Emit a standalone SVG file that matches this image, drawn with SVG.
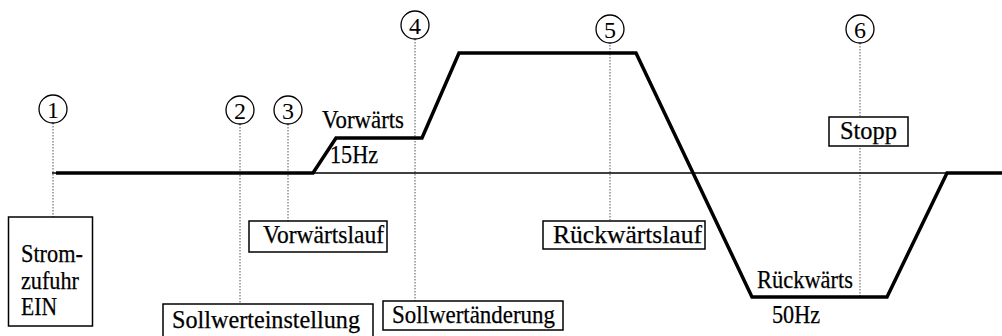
<svg xmlns="http://www.w3.org/2000/svg" width="1002" height="336" viewBox="0 0 1002 336">
<style>
text{font-family:'Liberation Serif','DejaVu Serif','Times New Roman',serif;fill:#000}
.lbl{font-size:25px;stroke:#000;stroke-width:0.25}
.num{font-size:24px;text-anchor:middle}
.box{fill:#fff;stroke:#000;stroke-width:1.5}
.circ{fill:#fff;stroke:#000;stroke-width:1.3}
.dot{stroke:#555;stroke-width:1;stroke-dasharray:1.5 1.5;fill:none}
.axis{stroke:#000;stroke-width:1.6;fill:none}
.curve{stroke:#000;stroke-width:3.5;fill:none;stroke-linejoin:miter}
</style>
<rect width="1002" height="336" fill="#fff"/>
<g id="connectors">
<line class="dot" x1="53" y1="123" x2="53" y2="217"/>
<line class="dot" x1="240" y1="124" x2="240" y2="304"/>
<line class="dot" x1="288" y1="124" x2="288" y2="221"/>
<line class="dot" x1="415" y1="39" x2="415" y2="301"/>
<line class="dot" x1="610" y1="42" x2="610" y2="221"/>
<line class="dot" x1="860" y1="43" x2="860" y2="297"/>
<line class="axis" x1="52" y1="173" x2="1002" y2="173"/>
<polyline class="curve" points="56,173 313,173 336,138 422,138 459,53 636,53 752,297 887,297 947,173 1002,173"/>
</g>
<g id="n1">
<circle class="circ" cx="53" cy="109" r="14"/>
<text class="num" x="53" y="117.5">1</text>
</g>
<g id="n2">
<circle class="circ" cx="240" cy="110" r="14"/>
<text class="num" x="240" y="118.5">2</text>
</g>
<g id="n3">
<circle class="circ" cx="288" cy="110" r="14"/>
<text class="num" x="288" y="118.5">3</text>
</g>
<g id="n4">
<circle class="circ" cx="415" cy="25" r="14"/>
<text class="num" x="415" y="33.5">4</text>
</g>
<g id="n5">
<circle class="circ" cx="610" cy="29" r="14"/>
<text class="num" x="610" y="37.5">5</text>
</g>
<g id="n6">
<circle class="circ" cx="860" cy="29" r="14"/>
<text class="num" x="860" y="37.5">6</text>
</g>
<g id="box-strom">
<rect class="box" x="8.5" y="217" width="84" height="109"/>
<text class="lbl" x="21" y="262" textLength="62" lengthAdjust="spacingAndGlyphs">Strom-</text>
<text class="lbl" x="21" y="289" textLength="58" lengthAdjust="spacingAndGlyphs">zufuhr</text>
<text class="lbl" x="21" y="315" textLength="36" lengthAdjust="spacingAndGlyphs">EIN</text>
</g>
<g id="box-sollwerteinstellung">
<rect class="box" x="163" y="304" width="210" height="40"/>
<text class="lbl" x="172" y="328" textLength="188" lengthAdjust="spacingAndGlyphs">Sollwerteinstellung</text>
</g>
<g id="box-vorwaertslauf">
<rect class="box" x="249" y="221" width="138" height="31"/>
<text class="lbl" x="263" y="243" textLength="121" lengthAdjust="spacingAndGlyphs">Vorwärtslauf</text>
</g>
<g id="box-sollwertaenderung">
<rect class="box" x="383" y="301" width="180" height="29"/>
<text class="lbl" x="392" y="323" textLength="163" lengthAdjust="spacingAndGlyphs">Sollwertänderung</text>
</g>
<g id="box-rueckwaertslauf">
<rect class="box" x="543" y="221" width="162" height="28"/>
<text class="lbl" x="553" y="243" textLength="149" lengthAdjust="spacingAndGlyphs">Rückwärtslauf</text>
</g>
<g id="box-stopp">
<rect class="box" x="829" y="117" width="79" height="29"/>
<text class="lbl" x="840" y="139" textLength="57" lengthAdjust="spacingAndGlyphs">Stopp</text>
</g>
<g id="labels">
<text class="lbl" x="322" y="128" textLength="82" lengthAdjust="spacingAndGlyphs">Vorwärts</text>
<text class="lbl" x="330" y="163" textLength="48" lengthAdjust="spacingAndGlyphs">15Hz</text>
<text class="lbl" x="757" y="288" textLength="96" lengthAdjust="spacingAndGlyphs">Rückwärts</text>
<text class="lbl" x="772" y="323" textLength="48" lengthAdjust="spacingAndGlyphs">50Hz</text>
</g>
</svg>
